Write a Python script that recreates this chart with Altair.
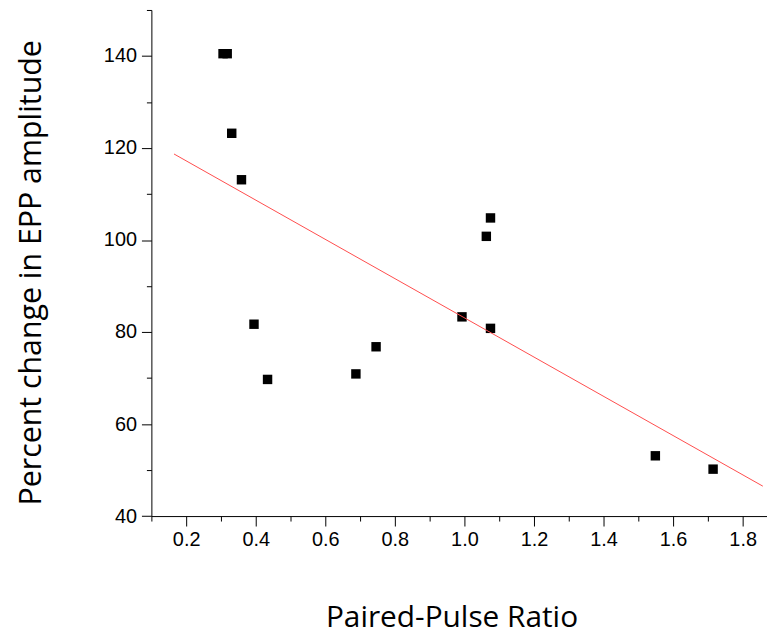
import altair as alt
import pandas as pd

# Data
ppr = [0.306, 0.318, 0.331, 0.359, 0.395, 0.434, 0.688, 0.746, 0.993, 1.063, 1.075, 1.075, 1.549, 1.715]
epp = [140.5, 140.5, 123.2, 113.1, 81.7, 69.7, 70.9, 76.8, 83.3, 100.8, 104.8, 80.8, 53.1, 50.2]

fit_x = [0.165, 1.858]
fit_y = [118.7, 46.5]

x_major = [0.2, 0.4, 0.6, 0.8, 1.0, 1.2, 1.4, 1.6, 1.8]
x_minor = [0.1, 0.3, 0.5, 0.7, 0.9, 1.1, 1.3, 1.5, 1.7]
y_major = [40, 60, 80, 100, 120, 140]
y_minor = [50, 70, 90, 110, 130, 150]

pts = pd.DataFrame({"x": ppr, "y": epp})
fit = pd.DataFrame({"x": fit_x, "y": fit_y})

xscale = alt.Scale(domain=[0.1, 1.87], nice=False, zero=False)
yscale = alt.Scale(domain=[40, 150], nice=False, zero=False)

label_font = "Liberation Sans"
title_font = "Open Sans"

xaxis = alt.Axis(
    title="Paired-Pulse Ratio",
    orient="bottom",
    values=x_major,
    format=".1f",
    tickSize=10,
    grid=False,
    domainColor="black",
    tickColor="black",
    labelColor="black",
    labelFont=label_font,
    labelFontSize=20,
    labelPadding=4,
    labelFlush=False,
    labelOverlap=False,
    titleFont=title_font,
    titleFontSize=30,
    titleFontWeight="normal",
    titleColor="black",
    titleX=302,
    titleY=110.7,
    titleBaseline="alphabetic",
    titleAlign="center",
    titleAnchor="middle",
)

yaxis = alt.Axis(
    title="Percent change in EPP amplitude",
    orient="left",
    values=y_major,
    tickSize=10,
    grid=False,
    domainColor="black",
    tickColor="black",
    labelColor="black",
    labelFont=label_font,
    labelFontSize=20,
    labelPadding=5,
    labelFlush=False,
    labelOverlap=False,
    titleFont=title_font,
    titleFontSize=30.5,
    titleFontWeight="normal",
    titleColor="black",
    titleAngle=270,
    titleX=-111.5,
    titleY=264,
    titleBaseline="alphabetic",
    titleAlign="center",
)

xminor = alt.Axis(
    title=None,
    orient="bottom",
    values=x_minor,
    tickSize=5,
    labels=False,
    domain=False,
    grid=False,
    tickColor="black",
)

yminor = alt.Axis(
    title=None,
    orient="left",
    values=y_minor,
    tickSize=5,
    labels=False,
    domain=False,
    grid=False,
    tickColor="black",
)

points = alt.Chart(pts).mark_square(size=90, color="black", opacity=1).encode(
    x=alt.X("x:Q", scale=xscale, axis=xaxis),
    y=alt.Y("y:Q", scale=yscale, axis=yaxis),
)

line = alt.Chart(fit).mark_line(color="#ff4d4d", strokeWidth=1).encode(
    x=alt.X("x:Q", scale=xscale, axis=xminor),
    y=alt.Y("y:Q", scale=yscale, axis=yminor),
)

chart = (
    alt.layer(points, line)
    .resolve_axis(x="independent", y="independent")
    .properties(
        width=619.5,
        height=509.3,
        autosize=alt.AutoSizeParams(type="none"),
        padding={"left": 144.3, "top": 0, "right": 0, "bottom": 120},
        background="white",
    )
    .configure_view(stroke=None)
)

chart.save("out.html", embed_options={"renderer": "svg", "actions": False})
